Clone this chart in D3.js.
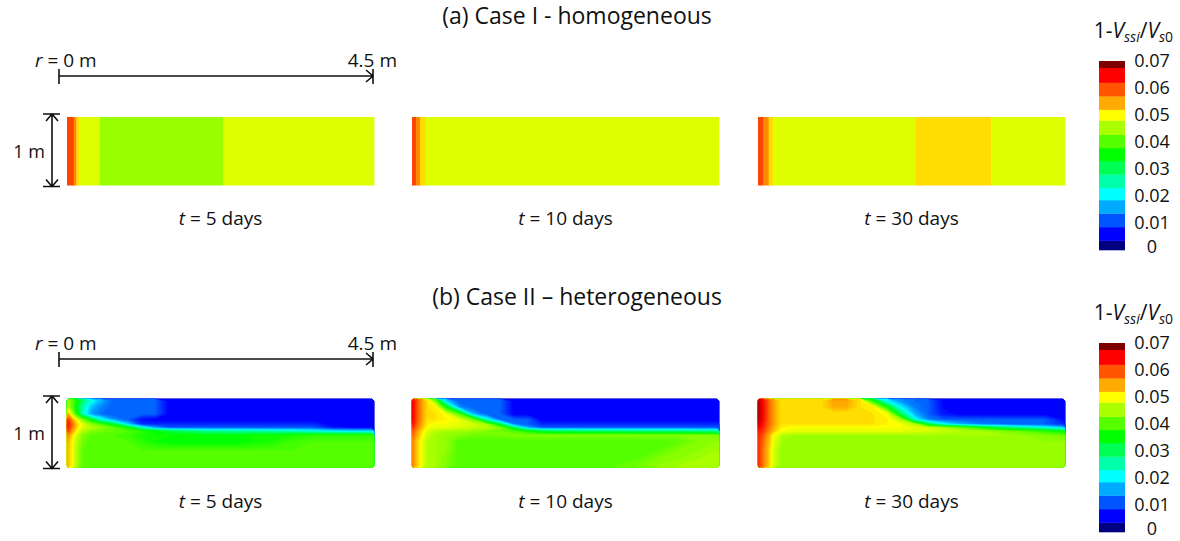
<!DOCTYPE html>
<html>
<head>
<meta charset="utf-8">
<script src="https://cdn.jsdelivr.net/npm/d3@7"></script>
<style>
  body { margin: 0; background: #fff; }
  text { font-family: "Open Sans", "Noto Sans", sans-serif; fill: #111; }
</style>
</head>
<body>
<svg id="chart" width="1180" height="541"></svg>
<script>
// ---- data -------------------------------------------------------------
const times = ['5', '10', '30'];

// colour map of 1 - Vssi/Vs0
const levels = [0, 0.005, 0.01, 0.015, 0.02, 0.025, 0.03, 0.035, 0.04, 0.045, 0.05, 0.055, 0.06, 0.065, 0.07];
const levelColors = ['#000080', '#0000ff', '#0055ff', '#00aaff', '#00ffff', '#00ffaa', '#00ff55', '#00ff00',
  '#55ff00', '#aaff00', '#ffff00', '#ffaa00', '#ff5500', '#ff0000', '#800000'];
// legend band edges (as drawn in the colour bar) and tick labels
const legendEdges = [0, 0.0035, 0.0085, 0.0135, 0.0185, 0.023, 0.028, 0.033, 0.0378, 0.0427, 0.048, 0.052, 0.057, 0.062, 0.0675, 0.07];
const legendTicks = [0, 0.01, 0.02, 0.03, 0.04, 0.05, 0.06, 0.07];

// Case I (homogeneous): radial strips r (m) and value in each strip
const homEdges = [
  [0, 0.098, 0.137, 0.18, 0.48, 2.29, 4.5],
  [0, 0.058, 0.117, 0.205, 4.5],
  [0, 0.073, 0.156, 0.22, 2.31, 3.42, 4.5]
];
const homValues = [
  [0.061, 0.057, 0.052, 0.048, 0.044, 0.048],
  [0.061, 0.057, 0.052, 0.048],
  [0.061, 0.057, 0.052, 0.048, 0.052, 0.048]
];

// Case II (heterogeneous): sample grid, r (m) across, depth z (m) down
const gridR = [0.02, 0.08, 0.15, 0.23, 0.35, 0.5, 0.7, 0.9, 1.1, 1.3, 1.5, 1.7, 1.9, 2.1, 2.3, 2.5, 2.7, 3.0, 3.3, 3.6, 3.9, 4.2, 4.47];
const gridZ = [0.03, 0.12, 0.22, 0.30, 0.37, 0.42, 0.47, 0.53, 0.62, 0.75, 0.88, 0.97];

const het5 = [
  [.044,.041,.036,.029,.022,.016,.011,.011,.011,.011,.005,.005,.005,.005,.005,.005,.005,.005,.005,.005,.005,.005,.005],
  [.046,.040,.033,.025,.017,.013,.011,.011,.011,.011,.005,.005,.005,.005,.005,.005,.005,.005,.005,.005,.005,.005,.005],
  [.055,.046,.036,.024,.015,.012,.011,.011,.011,.011,.005,.005,.005,.005,.005,.005,.005,.005,.005,.005,.005,.005,.005],
  [.062,.056,.049,.043,.034,.022,.014,.011,.006,.005,.005,.005,.005,.005,.005,.005,.005,.005,.005,.005,.005,.005,.005],
  [.064,.059,.053,.049,.044,.040,.032,.018,.008,.008,.008,.008,.008,.008,.008,.008,.008,.008,.008,.008,.005,.005,.005],
  [.063,.058,.052,.048,.046,.044,.041,.036,.024,.015,.011,.011,.011,.011,.011,.011,.011,.011,.011,.011,.007,.006,.006],
  [.061,.056,.050,.046,.043,.042,.041,.040,.038,.035,.032,.030,.028,.027,.027,.026,.026,.025,.024,.022,.020,.019,.019],
  [.057,.052,.047,.043,.041,.040,.040,.039,.037,.036,.036,.036,.036,.035,.035,.035,.036,.036,.037,.038,.038,.038,.038],
  [.055,.050,.046,.042,.040,.040,.040,.040,.038,.036,.035,.035,.035,.035,.035,.035,.036,.037,.039,.040,.040,.040,.040],
  [.054,.050,.045,.041,.040,.040,.040,.040,.040,.040,.040,.040,.040,.040,.040,.040,.040,.040,.040,.040,.040,.040,.040],
  [.054,.050,.045,.041,.040,.040,.040,.040,.040,.040,.040,.040,.040,.040,.040,.040,.040,.040,.040,.040,.040,.040,.040],
  [.054,.050,.045,.041,.040,.040,.040,.040,.040,.040,.040,.040,.040,.040,.040,.040,.040,.040,.040,.040,.040,.040,.040]
];

const het10 = [
  [.065,.060,.056,.052,.042,.018,.011,.011,.011,.011,.005,.005,.005,.005,.005,.005,.005,.005,.005,.005,.005,.005,.005],
  [.065,.060,.056,.052,.051,.036,.014,.011,.011,.011,.005,.005,.005,.005,.005,.005,.005,.005,.005,.005,.005,.005,.005],
  [.065,.060,.056,.052,.052,.050,.040,.016,.011,.011,.005,.005,.005,.005,.005,.005,.005,.005,.005,.005,.005,.005,.005],
  [.065,.060,.056,.052,.052,.051,.049,.042,.022,.011,.011,.011,.005,.005,.005,.005,.005,.005,.005,.005,.005,.005,.005],
  [.064,.059,.055,.051,.050,.050,.049,.048,.045,.030,.013,.011,.008,.008,.008,.008,.008,.008,.008,.008,.008,.008,.008],
  [.062,.058,.054,.050,.049,.049,.048,.047,.046,.043,.030,.016,.011,.011,.011,.011,.011,.011,.011,.011,.011,.011,.011],
  [.060,.056,.052,.048,.046,.045,.045,.044,.043,.042,.040,.036,.032,.030,.030,.029,.029,.029,.028,.028,.028,.027,.027],
  [.059,.055,.051,.047,.045,.044,.043,.042,.042,.042,.043,.043,.043,.043,.043,.043,.043,.043,.043,.043,.043,.043,.043],
  [.057,.053,.049,.046,.045,.044,.040,.040,.040,.040,.040,.040,.040,.040,.040,.040,.040,.040,.040,.040,.041,.043,.044],
  [.057,.053,.049,.046,.045,.044,.040,.040,.040,.040,.040,.040,.040,.040,.040,.040,.040,.040,.040,.041,.043,.044,.045],
  [.057,.053,.049,.046,.045,.043,.040,.040,.040,.040,.040,.040,.040,.040,.040,.040,.040,.040,.041,.043,.044,.045,.045],
  [.057,.053,.049,.046,.045,.043,.040,.040,.040,.040,.040,.040,.040,.040,.040,.040,.040,.041,.042,.044,.045,.045,.045]
];

const het30 = [
  [.068,.065,.060,.056,.052,.052,.052,.052,.056,.056,.052,.036,.020,.014,.012,.011,.006,.005,.005,.005,.005,.005,.005],
  [.068,.065,.060,.056,.052,.052,.052,.052,.055,.055,.052,.051,.036,.020,.013,.011,.006,.005,.005,.005,.005,.005,.005],
  [.068,.065,.060,.056,.052,.052,.052,.052,.052,.052,.052,.052,.050,.030,.016,.011,.007,.005,.005,.005,.005,.005,.005],
  [.068,.065,.060,.056,.052,.052,.052,.052,.052,.052,.052,.052,.051,.045,.022,.013,.011,.011,.011,.011,.011,.011,.006],
  [.067,.064,.060,.056,.052,.052,.052,.052,.052,.052,.052,.052,.051,.050,.046,.032,.022,.016,.013,.012,.011,.011,.008],
  [.066,.063,.059,.055,.051,.050,.050,.050,.050,.050,.050,.050,.050,.050,.049,.048,.046,.042,.036,.030,.026,.022,.018],
  [.064,.062,.058,.054,.050,.049,.049,.049,.049,.049,.049,.049,.049,.049,.048,.048,.047,.046,.045,.043,.041,.038,.035],
  [.063,.060,.056,.050,.046,.045,.045,.045,.045,.045,.045,.045,.045,.045,.045,.045,.045,.045,.045,.045,.044,.043,.042],
  [.062,.059,.055,.049,.045,.044,.044,.044,.044,.044,.044,.044,.044,.044,.044,.044,.044,.044,.044,.044,.044,.044,.044],
  [.062,.058,.054,.048,.044,.044,.044,.044,.044,.044,.044,.044,.044,.044,.044,.044,.044,.044,.044,.044,.044,.044,.044],
  [.062,.058,.054,.048,.044,.044,.044,.044,.044,.044,.044,.044,.044,.044,.044,.044,.044,.044,.044,.044,.044,.044,.044],
  [.062,.058,.054,.048,.044,.044,.044,.044,.044,.044,.044,.044,.044,.044,.044,.044,.044,.044,.044,.044,.044,.044,.044]
];
const hetGrids = [het5, het10, het30];

// ---- layout -----------------------------------------------------------
const panelX = [67, 412, 758];
const panelW = 307;
const panelH = 68.5;
const rows = [
  { title: '(a) Case I - homogeneous', top: 117, titleY: 24, scaleY: 76, labelY: 225, legTop: 61, legBottom: 250, legTitleY: 38 },
  { title: '(b) Case II \u2013 heterogeneous', top: 399, titleY: 305, scaleY: 359, labelY: 508, legTop: 343, legBottom: 532, legTitleY: 320 }
];

const svg = d3.select('#chart');
const color = d3.scaleLinear().domain(levels).range(levelColors).clamp(true);
const thresholds = d3.range(0, 71).map(i => i / 1000);

function drawStrips(g, x, z, edges, values) {
  const strips = d3.pairs(edges).map((p, i) => ({ r0: p[0], r1: p[1], v: values[i] }));
  g.selectAll('rect')
    .data(strips)
    .join('rect')
    .attr('x', d => x(d.r0))
    .attr('width', d => x(d.r1) - x(d.r0) + 0.4)
    .attr('y', z(0))
    .attr('height', z(1) - z(0))
    .attr('fill', d => color(d.v));
}

function drawGrid(g, x, z, grid) {
  const n = gridR.length, m = gridZ.length;
  // grid index space -> physical r / z (sample i sits at i + 0.5)
  const gx = d3.scaleLinear().domain([0, ...gridR.map((_, i) => i + 0.5), n]).range([0, ...gridR, 4.5]);
  const gz = d3.scaleLinear().domain([0, ...gridZ.map((_, j) => j + 0.5), m]).range([0, ...gridZ, 1]);
  const contours = d3.contours().size([n, m]).thresholds(thresholds)(grid.flat());
  const path = d3.geoPath(d3.geoTransform({
    point(px, py) { this.stream.point(x(gx(px)), z(gz(py))); }
  }));
  g.selectAll('path')
    .data(contours)
    .join('path')
    .attr('d', path)
    .attr('fill', d => color(d.value))
    .attr('stroke', d => color(d.value))
    .attr('stroke-width', 0.3);
}

function drawLegend(row) {
  const y = d3.scaleLinear().domain([0, 0.07]).range([row.legBottom, row.legTop]);
  const g = svg.append('g');
  g.selectAll('rect')
    .data(d3.pairs(legendEdges).map((p, i) => ({ v0: p[0], v1: p[1], c: levelColors[i] })))
    .join('rect')
    .attr('x', 1099)
    .attr('width', 26)
    .attr('y', d => y(d.v1))
    .attr('height', d => y(d.v0) - y(d.v1) + 0.3)
    .attr('fill', d => d.c);

  const axis = g.append('g')
    .attr('transform', 'translate(1152,0)')
    .call(d3.axisRight(y).tickValues(legendTicks).tickSize(0).tickPadding(0)
      .tickFormat(d => d === 0 ? '0' : d3.format('.2f')(d)));
  axis.select('.domain').remove();
  axis.selectAll('text')
    .attr('text-anchor', 'middle')
    .attr('font-family', '"Open Sans", sans-serif')
    .attr('font-size', 18)
    .attr('fill', '#111')
    .attr('dy', d => d === 0 ? '0.14em' : '0.33em');

  const t = g.append('text').attr('x', 1173).attr('y', row.legTitleY)
    .attr('text-anchor', 'end').attr('font-size', 21);
  t.append('tspan').text('1-');
  t.append('tspan').attr('font-style', 'italic').text('V');
  t.append('tspan').attr('font-style', 'italic').attr('font-size', 14).attr('dy', 4).text('ssi');
  t.append('tspan').attr('dy', -4).text('/');
  t.append('tspan').attr('font-style', 'italic').text('V');
  t.append('tspan').attr('font-style', 'italic').attr('font-size', 14).attr('dy', 4).text('s');
  t.append('tspan').attr('font-size', 14).text('0');
}

function drawScale(row) {
  const g = svg.append('g').attr('stroke', '#111').attr('stroke-width', 1.6).attr('fill', 'none');
  const ys = row.scaleY, x0 = 59, x1 = 373;
  g.append('path').attr('d', `M${x0},${ys}H${x1}M${x0},${ys - 7}V${ys + 8}M${x1},${ys - 7}V${ys + 8}M${x1 - 7},${ys - 6}L${x1},${ys}L${x1 - 7},${ys + 6}`);
  const y0 = row.top - 3, y1 = row.top + panelH + 1, xv = 52;
  g.append('path').attr('d', `M${xv},${y0}V${y1}M${xv - 9},${y0}H${xv + 8}M${xv - 9},${y1}H${xv + 8}M${xv - 6},${y0 + 7}L${xv},${y0}L${xv + 6},${y0 + 7}M${xv - 6},${y1 - 7}L${xv},${y1}L${xv + 6},${y1 - 7}`);

  const t0 = svg.append('text').attr('x', 35).attr('y', ys - 9).attr('font-size', 19);
  t0.append('tspan').attr('font-style', 'italic').text('r');
  t0.append('tspan').text(' = 0 m');
  svg.append('text').attr('x', 397).attr('y', ys - 9).attr('text-anchor', 'end').attr('font-size', 19).text('4.5 m');
  svg.append('text').attr('x', 45).attr('y', row.top + panelH / 2 + 7).attr('text-anchor', 'end').attr('font-size', 18).text('1 m');
}

rows.forEach((row, ri) => {
  svg.append('text')
    .attr('x', 577).attr('y', row.titleY)
    .attr('text-anchor', 'middle').attr('font-size', 23)
    .text(row.title);

  times.forEach((tm, pi) => {
    const x = d3.scaleLinear().domain([0, 4.5]).range([panelX[pi], panelX[pi] + panelW]);
    const z = d3.scaleLinear().domain([0, 1]).range([row.top, row.top + panelH]);
    const g = svg.append('g');
    if (ri === 0) drawStrips(g, x, z, homEdges[pi], homValues[pi]);
    else drawGrid(g, x, z, hetGrids[pi]);

    const lbl = svg.append('text')
      .attr('x', panelX[pi] + panelW / 2).attr('y', row.labelY)
      .attr('text-anchor', 'middle').attr('font-size', 19);
    lbl.append('tspan').attr('font-style', 'italic').text('t');
    lbl.append('tspan').text(` = ${tm} days`);
  });

  drawScale(row);
  drawLegend(row);
});
</script>
</body>
</html>
